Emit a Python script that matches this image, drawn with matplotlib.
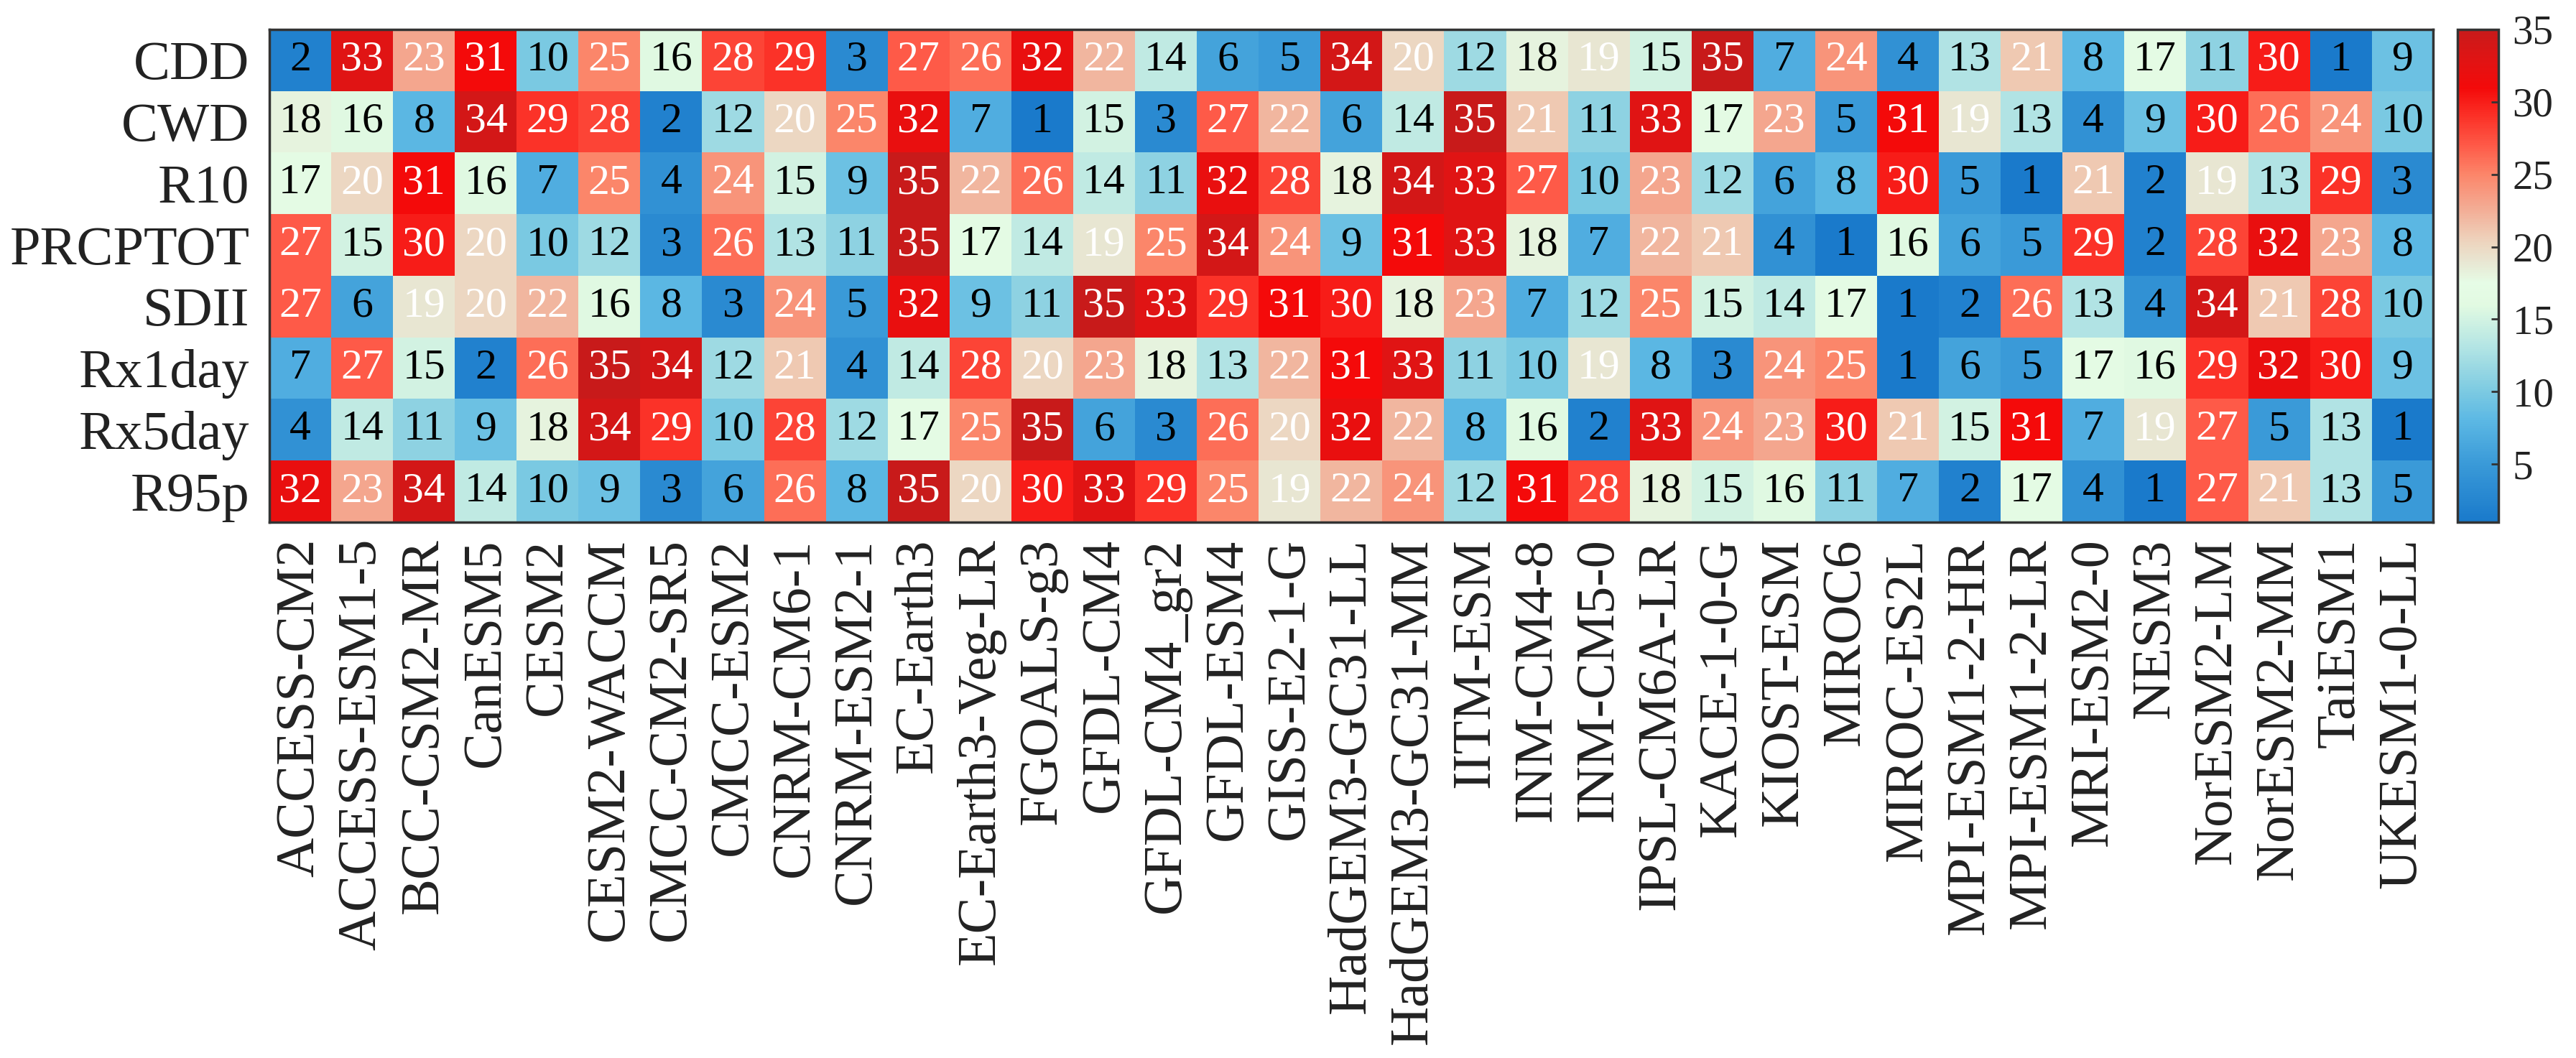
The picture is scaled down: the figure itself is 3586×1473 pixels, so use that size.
import numpy as np
import matplotlib
matplotlib.use("Agg")
import matplotlib.pyplot as plt
from matplotlib.colors import LinearSegmentedColormap, Normalize

plt.rcParams['font.family'] = ['Liberation Serif', 'DejaVu Serif']

models = ["ACCESS-CM2", "ACCESS-ESM1-5", "BCC-CSM2-MR", "CanESM5", "CESM2",
          "CESM2-WACCM", "CMCC-CM2-SR5", "CMCC-ESM2", "CNRM-CM6-1", "CNRM-ESM2-1",
          "EC-Earth3", "EC-Earth3-Veg-LR", "FGOALS-g3", "GFDL-CM4", "GFDL-CM4_gr2",
          "GFDL-ESM4", "GISS-E2-1-G", "HadGEM3-GC31-LL", "HadGEM3-GC31-MM", "IITM-ESM",
          "INM-CM4-8", "INM-CM5-0", "IPSL-CM6A-LR", "KACE-1-0-G", "KIOST-ESM",
          "MIROC6", "MIROC-ES2L", "MPI-ESM1-2-HR", "MPI-ESM1-2-LR", "MRI-ESM2-0",
          "NESM3", "NorESM2-LM", "NorESM2-MM", "TaiESM1", "UKESM1-0-LL"]

indices = ["CDD", "CWD", "R10", "PRCPTOT", "SDII", "Rx1day", "Rx5day", "R95p"]

CDD = [2, 33, 23, 31, 10, 25, 16, 28, 29, 3, 27, 26, 32, 22, 14, 6, 5, 34, 20, 12,
       18, 19, 15, 35, 7, 24, 4, 13, 21, 8, 17, 11, 30, 1, 9]
CWD = [18, 16, 8, 34, 29, 28, 2, 12, 20, 25, 32, 7, 1, 15, 3, 27, 22, 6, 14, 35,
       21, 11, 33, 17, 23, 5, 31, 19, 13, 4, 9, 30, 26, 24, 10]
R10 = [17, 20, 31, 16, 7, 25, 4, 24, 15, 9, 35, 22, 26, 14, 11, 32, 28, 18, 34, 33,
       27, 10, 23, 12, 6, 8, 30, 5, 1, 21, 2, 19, 13, 29, 3]
PRCPTOT = [27, 15, 30, 20, 10, 12, 3, 26, 13, 11, 35, 17, 14, 19, 25, 34, 24, 9, 31, 33,
           18, 7, 22, 21, 4, 1, 16, 6, 5, 29, 2, 28, 32, 23, 8]
SDII = [27, 6, 19, 20, 22, 16, 8, 3, 24, 5, 32, 9, 11, 35, 33, 29, 31, 30, 18, 23,
        7, 12, 25, 15, 14, 17, 1, 2, 26, 13, 4, 34, 21, 28, 10]
Rx1day = [7, 27, 15, 2, 26, 35, 34, 12, 21, 4, 14, 28, 20, 23, 18, 13, 22, 31, 33, 11,
          10, 19, 8, 3, 24, 25, 1, 6, 5, 17, 16, 29, 32, 30, 9]
Rx5day = [4, 14, 11, 9, 18, 34, 29, 10, 28, 12, 17, 25, 35, 6, 3, 26, 20, 32, 22, 8,
          16, 2, 33, 24, 23, 30, 21, 15, 31, 7, 19, 27, 5, 13, 1]
R95p = [32, 23, 34, 14, 10, 9, 3, 6, 26, 8, 35, 20, 30, 33, 29, 25, 19, 22, 24, 12,
        31, 28, 18, 15, 16, 11, 7, 2, 17, 4, 1, 27, 21, 13, 5]

data = np.array([CDD, CWD, R10, PRCPTOT, SDII, Rx1day, Rx5day, R95p])

vmin, vmax = 1, 35
nodes = [(1, "#1a7acb"), (5, "#3a9ad8"), (8, "#5cb8e4"), (10, "#7ccae2"),
         (13, "#b2e4e4"), (16, "#e2fae2"), (17.5, "#e6fce6"), (19, "#e8e6d2"),
         (20.5, "#eed2bc"), (23, "#f4a68e"), (25, "#fc866a"), (27, "#fe5a48"),
         (29, "#fb3228"), (31, "#f40a0a"), (33, "#e01414"), (35, "#c81a1a")]
cmap = LinearSegmentedColormap.from_list(
    "rank", [((v - vmin) / (vmax - vmin), c) for v, c in nodes])
norm = Normalize(vmin=vmin, vmax=vmax)

fig = plt.figure(figsize=(35.86, 14.73), dpi=100)
ax = fig.add_axes([0.1046, 0.5065, 0.8400, 0.4657])
im = ax.imshow(data, cmap=cmap, norm=norm, aspect="auto", interpolation="nearest")

for i in range(data.shape[0]):
    for j in range(data.shape[1]):
        v = data[i, j]
        ax.text(j, i, str(v), ha="center", va="center", fontsize=43,
                color="white" if v >= 19 else "black")

ax.set_xticks(np.arange(len(models)))
ax.set_xticklabels(models, rotation=90, fontsize=55)
ax.set_yticks(np.arange(len(indices)))
ax.set_yticklabels(indices, fontsize=55)
ax.tick_params(axis="both", length=0, colors="#222222")
ax.tick_params(axis="x", pad=16)
ax.tick_params(axis="y", pad=20)
for s in ax.spines.values():
    s.set_color("#333333")
    s.set_linewidth(2.5)

cax = fig.add_axes([0.9540, 0.5065, 0.0159, 0.4657])
cb = fig.colorbar(im, cax=cax, ticks=[5, 10, 15, 20, 25, 30, 35])
cb.ax.tick_params(labelsize=41, direction="in", length=7, width=2,
                  color="#333333", labelcolor="#222222", pad=14)
cb.outline.set_edgecolor("#333333")
cb.outline.set_linewidth(2.5)

fig.savefig("out.png", dpi=100)
